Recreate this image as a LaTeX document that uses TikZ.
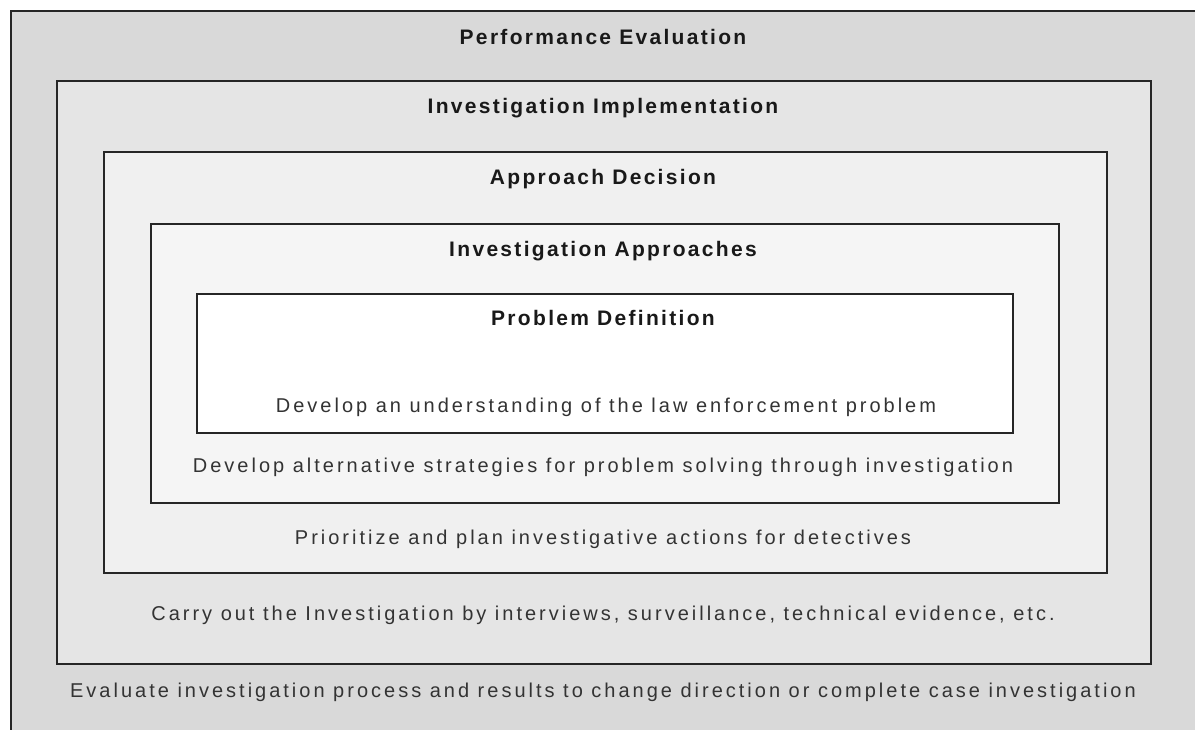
\documentclass[tikz,border=0pt]{standalone}
\usepackage{fontspec}
\usetikzlibrary{positioning}
\newfontfamily\headfont[LetterSpace=11]{Liberation Sans}
\newfontfamily\bodyfont[LetterSpace=15]{Liberation Sans}
\tikzset{
  layer/.style={draw=black!85, line width=2pt, anchor=north west, inner sep=0pt},
  head/.style={font={\headfont\bfseries\fontsize{21}{25}\selectfont}, text=black!90, anchor=base},
  body/.style={font={\bodyfont\fontsize{20}{24}\selectfont}, text=black!80, anchor=base},
}

\begin{document}
\begin{tikzpicture}[x=1pt,y=-1pt]
  \clip (0,0) rectangle (1195,729);
  \fill[white] (0,0) rectangle (1195,729);
  % nested layers, outermost first
  \node[layer, fill=black!15, minimum width=1200pt, minimum height=740pt] (evaluation) at (10,10) {};
  \node[layer, fill=black!10, minimum width=1094pt, minimum height=583pt] (implementation) at (56,80) {};
  \node[layer, fill=black!6, minimum width=1003pt, minimum height=421pt] (decision) at (103,151) {};
  \node[layer, fill=black!4, minimum width=908pt, minimum height=279pt] (approaches) at (150,223) {};
  \node[layer, fill=white, minimum width=816pt, minimum height=139pt] (problem) at (196,293) {};
  % titles
  \node[head] (evaluationtitle) at (603,44.5) {Performance Evaluation};
  \node[head] (implementationtitle) at (603,113.5) {Investigation Implementation};
  \node[head] (decisiontitle) at (603,184.5) {Approach Decision};
  \node[head] (approachestitle) at (603,256.5) {Investigation Approaches};
  \node[head] (problemtitle) at (603,325.5) {Problem Definition};
  % descriptions
  \node[body] (problemtext) at (606,412) {Develop an understanding of the law enforcement problem};
  \node[body] (approachestext) at (603,472) {Develop alternative strategies for problem solving through investigation};
  \node[body] (decisiontext) at (603,544) {Prioritize and plan investigative actions for detectives};
  \node[body] (implementationtext) at (603,620) {Carry out the Investigation by interviews, surveillance, technical evidence, etc.};
  \node[body] (evaluationtext) at (603,697) {Evaluate investigation process and results to change direction or complete case investigation};
\end{tikzpicture}
\end{document}
